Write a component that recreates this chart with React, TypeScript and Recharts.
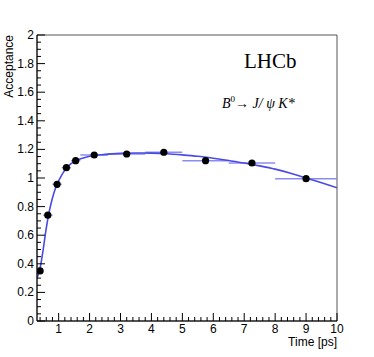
import React from "react";
import {
  ComposedChart,
  Line,
  Scatter,
  ErrorBar,
  XAxis,
  YAxis,
  ReferenceArea,
} from "recharts";

// binned acceptance points (bin centre, half bin width)
const binX = [0.4, 0.65, 0.95, 1.25, 1.55, 2.15, 3.2, 4.4, 5.75, 7.25, 9.0];
const binHalfWidth = [0.1, 0.15, 0.15, 0.15, 0.15, 0.45, 0.6, 0.6, 0.75, 0.75, 1.0];
const binAcc = [0.35, 0.74, 0.956, 1.072, 1.121, 1.161, 1.168, 1.18, 1.121, 1.105, 0.995];

// fitted acceptance curve
const fitT = [
  0.3, 0.4, 0.5, 0.6, 0.7, 0.8, 0.9, 1.0, 1.1, 1.2, 1.4, 1.6, 1.8, 2.0, 2.5, 3.0,
  3.5, 4.0, 4.5, 5.0, 5.5, 6.0, 6.5, 7.0, 7.5, 8.0, 8.5, 9.0, 9.5, 10.0,
];
const fitAcc = [
  0.3, 0.37, 0.5, 0.65, 0.77, 0.86, 0.93, 0.98, 1.02, 1.055, 1.1, 1.125, 1.14,
  1.152, 1.165, 1.172, 1.175, 1.174, 1.17, 1.162, 1.152, 1.138, 1.122, 1.105,
  1.085, 1.062, 1.033, 1.0, 0.966, 0.932,
];

const xMajor = [1, 2, 3, 4, 5, 6, 7, 8, 9, 10];
const yMajor = [0, 0.2, 0.4, 0.6, 0.8, 1, 1.2, 1.4, 1.6, 1.8, 2];

const xTicks = Array.from({ length: 49 }, (_, i) => +(0.4 + i * 0.2).toFixed(2));
const yTicks = Array.from({ length: 41 }, (_, i) => +(i * 0.05).toFixed(2));

const points = binX.map((x, i) => ({ x, y: binAcc[i], xErr: binHalfWidth[i] }));
const curve = fitT.map((x, i) => ({ x, y: fitAcc[i] }));

const isMajor = (v: number, majors: number[]) =>
  majors.some((m) => Math.abs(m - v) < 1e-6);

const AXIS_FONT = "'Liberation Sans', Arial, sans-serif";

function XTick(props: any) {
  const { x, y, payload } = props;
  const major = isMajor(payload.value, xMajor);
  return (
    <g>
      <line x1={x} x2={x} y1={y} y2={y - (major ? 8 : 4)} stroke="#000" />
      {major && (
        <text x={x} y={y + 11.5} textAnchor="middle" fontSize={12} fontFamily={AXIS_FONT} fill="#000">
          {payload.value}
        </text>
      )}
    </g>
  );
}

function YTick(props: any) {
  const { x, y, payload } = props;
  const major = isMajor(payload.value, yMajor);
  return (
    <g>
      <line x1={x} x2={x + (major ? 8 : 4)} y1={y} y2={y} stroke="#000" />
      {major && (
        <text x={x - 3} y={y + 4} textAnchor="end" fontSize={12} fontFamily={AXIS_FONT} fill="#000">
          {String(Number(payload.value.toFixed(1)))}
        </text>
      )}
    </g>
  );
}

export default function App() {
  return (
    <div style={{ position: "absolute", left: 0, top: 0, width: 374, height: 357, background: "#fff" }}>
      <ComposedChart
        width={374}
        height={357}
        margin={{ top: 35, right: 37, left: 0, bottom: 0 }}
      >
        <XAxis
          type="number"
          dataKey="x"
          domain={[0.3, 10]}
          ticks={xTicks}
          interval={0}
          allowDataOverflow
          height={36}
          tickSize={0}
          tickMargin={0}
          tick={(p: any) => <XTick {...p} />}
          stroke="#000"
        />
        <YAxis
          type="number"
          domain={[0, 2]}
          ticks={yTicks}
          interval={0}
          allowDataOverflow
          width={37}
          tickSize={0}
          tickMargin={0}
          tick={(p: any) => <YTick {...p} />}
          stroke="#000"
        />
        <ReferenceArea x1={0.3} x2={10} y1={0} y2={2} fill="none" stroke="#555" strokeOpacity={1} />
        <Scatter
          data={points}
          dataKey="y"
          isAnimationActive={false}
          shape={() => <g />}
        >
          <ErrorBar dataKey="xErr" direction="x" width={0} stroke="#8c8cf0" strokeWidth={1.5} isAnimationActive={false} />
        </Scatter>
        <Line
          data={curve}
          dataKey="y"
          type="monotone"
          stroke="#4a4ae6"
          strokeWidth={1.6}
          dot={false}
          isAnimationActive={false}
        />
        <Scatter
          data={points}
          dataKey="y"
          fill="#000"
          isAnimationActive={false}
          shape={(p: any) => <circle cx={p.cx} cy={p.cy} r={3.6} fill="#000" />}
        />
      </ComposedChart>
      <svg width={374} height={357} style={{ position: "absolute", left: 0, top: 0, pointerEvents: "none" }}>
        <text
          transform="translate(13,35) rotate(-90)"
          textAnchor="end"
          fontSize={12}
          fontFamily={AXIS_FONT}
        >
          Acceptance
        </text>
        <text x={337} y={346} textAnchor="end" fontSize={12} fontFamily={AXIS_FONT}>
          Time [ps]
        </text>
        <text x={244} y={68} fontSize={21} fontFamily="'Liberation Serif', serif">
          LHCb
        </text>
        <text x={222} y={108} fontSize={14} fontFamily="'Liberation Serif', serif" fontStyle="italic">
          B<tspan dy={-6} fontSize={9} fontStyle="normal">0</tspan>
          <tspan dy={6} fontStyle="normal">→ </tspan>J/ ψ  K*
        </text>
      </svg>
    </div>
  );
}
